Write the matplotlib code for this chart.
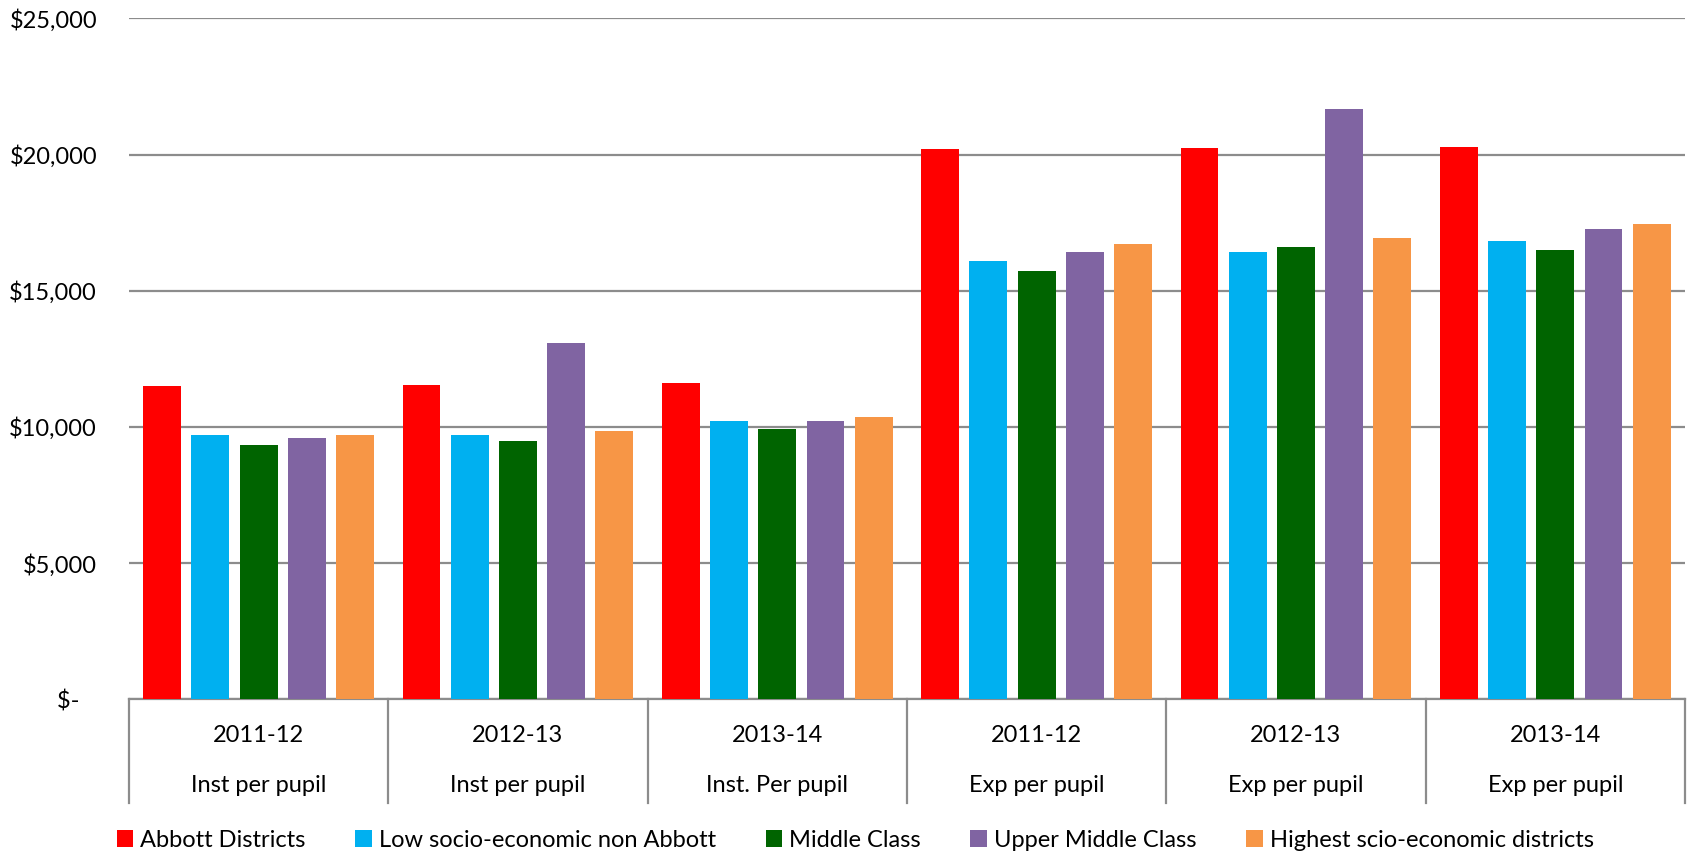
import matplotlib.pyplot as plt
import numpy as np

plt.rcParams['font.family'] = ['Lato', 'DejaVu Sans']

years = ['2011-12', '2012-13', '2013-14', '2011-12', '2012-13', '2013-14']
measures = ['Inst per pupil', 'Inst per pupil', 'Inst. Per pupil',
            'Exp per pupil', 'Exp per pupil', 'Exp per pupil']

series_names = ['Abbott Districts', 'Low socio-economic non Abbott', 'Middle Class',
                'Upper Middle Class', 'Highest scio-economic districts']
abbott = [11518, 11554, 11628, 20220, 20245, 20282]
low_ses = [9719, 9719, 10220, 16096, 16414, 16818]
middle = [9327, 9498, 9939, 15728, 16610, 16512]
upper_middle = [9596, 13093, 10232, 16438, 21677, 17258]
highest = [9719, 9841, 10355, 16707, 16940, 17466]
colors = ['#FF0000', '#00B0F0', '#006400', '#8064A2', '#F79646']

series = [abbott, low_ses, middle, upper_middle, highest]

fig = plt.figure(figsize=(16.9, 8.55), dpi=100)
ax = fig.add_axes([0.0763, 0.1819, 0.9207, 0.7967])

x = np.arange(len(years)) + 0.5
pitch = 0.186
width = 0.146
for j, (vals, name, c) in enumerate(zip(series, series_names, colors)):
    ax.bar(x + (j - 2) * pitch, vals, width, color=c, label=name, zorder=3)

ax.set_xlim(0, len(years))
ax.set_ylim(0, 25000)
ticks = [0, 5000, 10000, 15000, 20000, 25000]
ax.set_yticks(ticks)
ax.set_yticklabels(['$-   '] + [f'${t:,}' for t in ticks[1:]], fontsize=17)
ax.tick_params(axis='y', length=0, pad=23)
ax.set_xticks([])
ax.grid(axis='y', color='#8c8c8c', linewidth=1.6, zorder=0)
for s in ['top', 'right', 'left']:
    ax.spines[s].set_visible(False)
ax.spines['bottom'].set_color('#8c8c8c')
ax.spines['bottom'].set_linewidth(1.6)

# category separators and two-level labels
trans = ax.get_xaxis_transform()
for b in range(len(years) + 1):
    ax.plot([b, b], [0, -0.152], transform=trans, color='#8c8c8c',
            linewidth=1.6, clip_on=False)
for xi, yr, m in zip(x, years, measures):
    ax.text(xi, -0.0536, yr, transform=trans, ha='center', va='center', fontsize=17)
    ax.text(xi, -0.127, m, transform=trans, ha='center', va='center', fontsize=17)

fig.legend(loc='center', bbox_to_anchor=(0.506, 0.0175), ncol=5, frameon=False,
           fontsize=17, handlelength=0.7, handleheight=0.7, handletextpad=0.3,
           columnspacing=2.1)

plt.savefig('out.png', dpi=100)
